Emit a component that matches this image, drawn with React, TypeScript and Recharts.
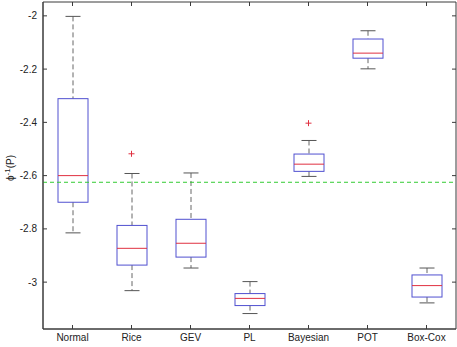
import React from "react";
import {
    ComposedChart,
    Bar,
    Line,
    XAxis,
    YAxis,
    ReferenceLine,
    ReferenceArea,
} from "recharts";

// box plot statistics per method
const methods = ["Normal", "Rice", "GEV", "PL", "Bayesian", "POT", "Box-Cox"];
const lowerWhisker = [-2.815, -3.032, -2.947, -3.118, -2.603, -2.199, -3.078];
const q1 = [-2.7, -2.936, -2.906, -3.088, -2.584, -2.159, -3.056];
const medians = [-2.6, -2.873, -2.854, -3.061, -2.557, -2.14, -3.013];
const q3 = [-2.311, -2.787, -2.764, -3.043, -2.519, -2.087, -2.973];
const upperWhisker = [-2.002, -2.592, -2.59, -2.998, -2.468, -2.056, -2.947];
const outliers: (number | null)[] = [null, -2.518, null, null, -2.403, null, null];
const yTicks = [-3, -2.8, -2.6, -2.4, -2.2, -2];
const threshold = -2.625;
const yDomain = [-3.176, -1.948];

const data = methods.map((name, i) => ({
    name,
    lo: lowerWhisker[i],
    q1: q1[i],
    med: medians[i],
    q3: q3[i],
    hi: upperWhisker[i],
    outlier: outliers[i],
}));

const PLOT_LEFT = 43;
const PLOT_RIGHT = 456;
const PLOT_TOP = 2;
const PLOT_BOTTOM = 329;
const FONT = "'Liberation Sans', Arial, sans-serif";
const AXIS = "#3a3a3a";

// whole box plot drawn from the range bar [lo, hi]
const BoxShape = (props: any) => {
    const { x, y, width, height, payload } = props;
    const top = Math.min(y, y + height);
    const bot = Math.max(y, y + height);
    const span = payload.hi - payload.lo;
    const toY = (v: number) => top + ((payload.hi - v) / span) * (bot - top);
    const cx = x + width / 2;
    const cap = width / 4;
    const yQ3 = toY(payload.q3);
    const yQ1 = toY(payload.q1);
    const yMed = toY(payload.med);
    return (
        <g>
            <line x1={cx} x2={cx} y1={top} y2={yQ3} stroke="#666" strokeDasharray="5 3" />
            <line x1={cx} x2={cx} y1={yQ1} y2={bot} stroke="#666" strokeDasharray="5 3" />
            <line x1={cx - cap} x2={cx + cap} y1={top} y2={top} stroke="#555" />
            <line x1={cx - cap} x2={cx + cap} y1={bot} y2={bot} stroke="#555" />
            <rect x={x} y={yQ3} width={width} height={yQ1 - yQ3} fill="none" stroke="#5050d0" />
            <line x1={x} x2={x + width} y1={yMed} y2={yMed} stroke="#e03040" />
        </g>
    );
};

const PlusDot = (props: any) => {
    const { cx, cy, payload } = props;
    if (payload == null || payload.outlier == null || cy == null) return <g />;
    return (
        <g>
            <line x1={cx - 3} x2={cx + 3} y1={cy} y2={cy} stroke="#e03040" />
            <line x1={cx} x2={cx} y1={cy - 3} y2={cy + 3} stroke="#e03040" />
        </g>
    );
};

const YTick = (props: any) => {
    const y = props.payload.coordinate;
    return (
        <g>
            <line x1={PLOT_LEFT} x2={PLOT_LEFT + 4} y1={y} y2={y} stroke={AXIS} />
            <line x1={PLOT_RIGHT - 4} x2={PLOT_RIGHT} y1={y} y2={y} stroke={AXIS} />
            <text x={PLOT_LEFT - 6} y={y + 3.5} textAnchor="end" fontSize={10} fontFamily={FONT} fill="#222">
                {props.payload.value}
            </text>
        </g>
    );
};

const XTick = (props: any) => {
    const x = props.x;
    return (
        <g>
            <line x1={x} x2={x} y1={PLOT_BOTTOM - 4} y2={PLOT_BOTTOM} stroke={AXIS} />
            <line x1={x} x2={x} y1={PLOT_TOP} y2={PLOT_TOP + 4} stroke={AXIS} />
            <text x={x} y={PLOT_BOTTOM + 12} textAnchor="middle" fontSize={10} fontFamily={FONT} fill="#222">
                {props.payload.value}
            </text>
        </g>
    );
};

const YLabel = () => (
    <text
        x={14}
        y={168}
        transform="rotate(-90, 14, 168)"
        textAnchor="middle"
        fontSize={10}
        fontFamily={FONT}
        fill="#222"
    >
        ϕ<tspan dy={-4} fontSize={8}>-1</tspan>
        <tspan dy={4}>(P)</tspan>
    </text>
);

export default function App() {
    return (
        <div style={{ position: "absolute", left: 0, top: 0, background: "#fff" }}>
            <ComposedChart
                width={457}
                height={347}
                data={data}
                margin={{ top: PLOT_TOP, right: 457 - PLOT_RIGHT, left: 0, bottom: 0 }}
                barSize={30}
            >
                <XAxis
                    dataKey="name"
                    height={347 - PLOT_BOTTOM}
                    tickLine={false}
                    axisLine={{ stroke: AXIS }}
                    tickSize={0}
                    tickMargin={0}
                    interval={0}
                    tick={XTick}
                />
                <YAxis
                    type="number"
                    domain={yDomain}
                    ticks={yTicks}
                    allowDataOverflow
                    width={PLOT_LEFT}
                    tickLine={false}
                    axisLine={{ stroke: AXIS }}
                    tickSize={0}
                    tickMargin={0}
                    tick={YTick}
                    label={{ content: YLabel }}
                />
                <ReferenceArea
                    y1={yDomain[0]}
                    y2={yDomain[1]}
                    fill="none"
                    fillOpacity={0}
                    stroke={AXIS}
                    strokeOpacity={1}
                    ifOverflow="extendDomain"
                />
                <ReferenceLine y={threshold} stroke="#33cc33" strokeDasharray="4 3" />
                <Bar
                    dataKey={(d: any) => [d.lo, d.hi]}
                    shape={BoxShape}
                    isAnimationActive={false}
                />
                <Line
                    dataKey="outlier"
                    stroke="none"
                    dot={PlusDot}
                    activeDot={false}
                    isAnimationActive={false}
                />
            </ComposedChart>
        </div>
    );
}
